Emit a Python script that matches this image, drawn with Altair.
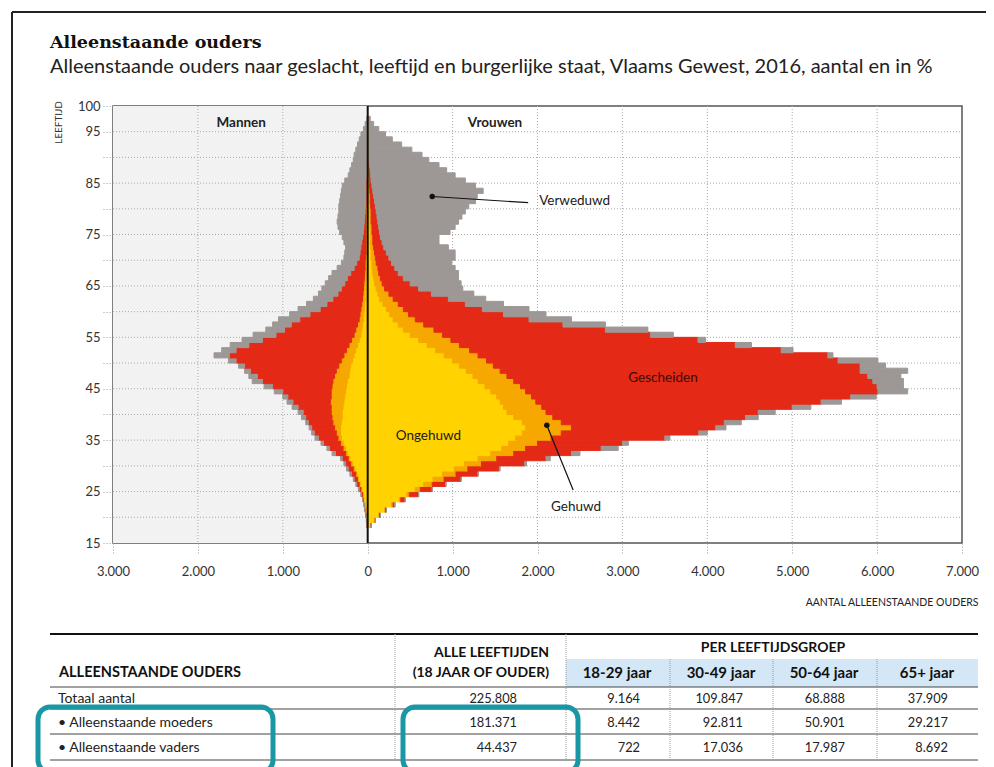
import altair as alt
import pandas as pd

# ---------------- data (counts in thousands) ----------------
ages = list(range(18, 98))
categories = ["Ongehuwd", "Gehuwd", "Gescheiden", "Verweduwd"]
cat_colors = ["#FFD200", "#F6A800", "#E42A16", "#9D9896"]

# women: cumulative outer edge of each status band, ages 18..97
vrouwen_ongehuwd = [
    0.04, 0.08, 0.13, 0.2, 0.28, 0.37, 0.46, 0.56, 0.66, 0.77,
    0.88, 1.02, 1.14, 1.3, 1.45, 1.58, 1.66, 1.74, 1.82, 1.86,
    1.82, 1.72, 1.64, 1.6, 1.56, 1.52, 1.45, 1.38, 1.3, 1.24,
    1.16, 1.08, 1.0, 0.9, 0.8, 0.7, 0.6, 0.5, 0.42, 0.36,
    0.3, 0.26, 0.22, 0.18, 0.14, 0.12, 0.1, 0.08, 0.07, 0.06,
    0.05, 0.05, 0.04, 0.04, 0.035, 0.03, 0.03, 0.03, 0.025, 0.025,
    0.02, 0.02, 0.02, 0.02, 0.015, 0.015, 0.01, 0.01, 0.01, 0.01,
    0.01, 0.005, 0.005, 0.005, 0.005, 0.0, 0.0, 0.0, 0.0, 0.0]
vrouwen_tm_gehuwd = [
    0.04, 0.09, 0.14, 0.21, 0.3, 0.39, 0.49, 0.62, 0.76, 0.9,
    1.04, 1.18, 1.34, 1.52, 1.72, 1.86, 2.0, 2.16, 2.28, 2.4,
    2.28, 2.18, 2.1, 2.05, 1.98, 1.93, 1.86, 1.8, 1.72, 1.64,
    1.56, 1.48, 1.4, 1.3, 1.2, 1.08, 0.98, 0.88, 0.78, 0.66,
    0.56, 0.48, 0.42, 0.36, 0.3, 0.25, 0.2, 0.17, 0.15, 0.13,
    0.12, 0.1, 0.09, 0.08, 0.07, 0.06, 0.06, 0.05, 0.05, 0.04,
    0.04, 0.04, 0.035, 0.03, 0.03, 0.025, 0.02, 0.02, 0.015, 0.015,
    0.01, 0.01, 0.01, 0.01, 0.005, 0.005, 0.0, 0.0, 0.0, 0.0]
vrouwen_tm_gescheiden = [
    0.04, 0.09, 0.15, 0.22, 0.32, 0.44, 0.6, 0.76, 0.92, 1.1,
    1.3, 1.55, 1.85, 2.1, 2.4, 2.75, 3.0, 3.5, 3.9, 4.1,
    4.2, 4.45, 4.6, 5.0, 5.34, 5.69, 6.01, 6.0, 5.95, 5.89,
    5.8, 5.8, 5.54, 5.42, 4.87, 4.33, 3.89, 3.33, 2.8, 2.3,
    1.9, 1.6, 1.35, 1.15, 0.95, 0.75, 0.6, 0.5, 0.42, 0.36,
    0.32, 0.28, 0.25, 0.22, 0.19, 0.17, 0.15, 0.14, 0.13, 0.12,
    0.11, 0.1, 0.09, 0.08, 0.07, 0.06, 0.05, 0.04, 0.035, 0.03,
    0.02, 0.015, 0.01, 0.01, 0.01, 0.01, 0.005, 0.005, 0.005, 0.0]
vrouwen_totaal = [
    0.04, 0.09, 0.15, 0.22, 0.32, 0.44, 0.6, 0.76, 0.92, 1.1,
    1.3, 1.56, 1.87, 2.15, 2.5, 2.95, 3.07, 3.56, 4.0, 4.22,
    4.4, 4.6, 4.8, 5.22, 5.58, 5.99, 6.36, 6.31, 6.31, 6.28,
    6.36, 6.1, 6.01, 5.48, 5.01, 4.52, 3.98, 3.6, 3.3, 2.8,
    2.4, 2.1, 1.9, 1.6, 1.39, 1.25, 1.12, 1.1, 1.07, 1.07,
    1.03, 0.99, 1.03, 1.03, 0.95, 0.84, 0.84, 0.97, 1.03, 1.07,
    1.11, 1.15, 1.19, 1.27, 1.29, 1.36, 1.27, 1.15, 1.03, 0.93,
    0.84, 0.72, 0.64, 0.52, 0.4, 0.29, 0.21, 0.13, 0.07, 0.03]

# men: cumulative outer edge of each status band, ages 18..97
mannen_ongehuwd = [
    0.01, 0.012, 0.015, 0.02, 0.03, 0.045, 0.055, 0.07, 0.09, 0.11,
    0.13, 0.15, 0.18, 0.21, 0.24, 0.26, 0.29, 0.31, 0.32, 0.32,
    0.31, 0.3, 0.3, 0.29, 0.28, 0.27, 0.26, 0.25, 0.24, 0.22,
    0.21, 0.2, 0.18, 0.16, 0.14, 0.12, 0.1, 0.08, 0.07, 0.06,
    0.05, 0.045, 0.04, 0.035, 0.03, 0.03, 0.025, 0.025, 0.02, 0.02,
    0.02, 0.02, 0.02, 0.015, 0.015, 0.015, 0.015, 0.015, 0.015, 0.015,
    0.015, 0.015, 0.015, 0.01, 0.01, 0.01, 0.01, 0.01, 0.01, 0.01,
    0.01, 0.01, 0.01, 0.005, 0.005, 0.005, 0.005, 0.005, 0.005, 0.0]
mannen_tm_gehuwd = [
    0.01, 0.012, 0.02, 0.03, 0.04, 0.05, 0.06, 0.08, 0.1, 0.12,
    0.14, 0.17, 0.2, 0.23, 0.26, 0.29, 0.32, 0.35, 0.37, 0.39,
    0.41, 0.42, 0.43, 0.43, 0.44, 0.43, 0.43, 0.42, 0.41, 0.39,
    0.37, 0.34, 0.31, 0.28, 0.25, 0.22, 0.19, 0.16, 0.14, 0.12,
    0.1, 0.09, 0.08, 0.07, 0.06, 0.055, 0.05, 0.045, 0.04, 0.035,
    0.03, 0.03, 0.025, 0.02, 0.02, 0.02, 0.02, 0.02, 0.02, 0.02,
    0.02, 0.02, 0.02, 0.01, 0.01, 0.01, 0.01, 0.01, 0.01, 0.01,
    0.01, 0.01, 0.01, 0.005, 0.005, 0.005, 0.005, 0.005, 0.005, 0.0]
mannen_tm_gescheiden = [
    0.01, 0.015, 0.02, 0.03, 0.04, 0.055, 0.075, 0.1, 0.13, 0.16,
    0.19, 0.23, 0.26, 0.3, 0.38, 0.45, 0.52, 0.58, 0.63, 0.66,
    0.7, 0.73, 0.76, 0.82, 0.88, 0.94, 1.0, 1.12, 1.24, 1.3,
    1.38, 1.45, 1.55, 1.63, 1.55, 1.4, 1.24, 1.08, 0.98, 0.9,
    0.8, 0.68, 0.56, 0.48, 0.41, 0.35, 0.31, 0.27, 0.24, 0.2,
    0.16, 0.13, 0.1, 0.09, 0.08, 0.07, 0.06, 0.05, 0.045, 0.04,
    0.035, 0.03, 0.025, 0.02, 0.02, 0.02, 0.02, 0.02, 0.01, 0.01,
    0.01, 0.01, 0.01, 0.005, 0.005, 0.005, 0.005, 0.005, 0.005, 0.0]
mannen_totaal = [
    0.01, 0.015, 0.02, 0.03, 0.045, 0.06, 0.08, 0.11, 0.14, 0.17,
    0.21, 0.25, 0.28, 0.32, 0.42, 0.48, 0.55, 0.62, 0.66, 0.69,
    0.73, 0.78, 0.82, 0.89, 0.95, 1.0, 1.1, 1.22, 1.36, 1.4,
    1.45, 1.52, 1.64, 1.81, 1.72, 1.62, 1.48, 1.35, 1.2, 1.12,
    1.05, 0.92, 0.82, 0.72, 0.64, 0.58, 0.54, 0.5, 0.46, 0.42,
    0.36, 0.31, 0.28, 0.27, 0.26, 0.28, 0.3, 0.33, 0.35, 0.36,
    0.35, 0.34, 0.34, 0.33, 0.32, 0.31, 0.3, 0.27, 0.23, 0.21,
    0.19, 0.17, 0.16, 0.14, 0.12, 0.1, 0.08, 0.05, 0.03, 0.01]

# annotations
ann_labels = ["Verweduwd", "Gescheiden", "Ongehuwd", "Gehuwd"]
ann_label_x = [2.02, 3.07, 0.33, 2.16]
ann_label_age = [81.6, 47.0, 35.8, 22.0]
ann_label_color = ["#1a1a1a", "#3b0906", "#1a1a1a", "#1a1a1a"]
ann_dot_x = [0.76, 2.11]
ann_dot_age = [82.4, 37.9]
ann_end_x = [1.89, 2.42]
ann_end_age = [81.2, 25.3]
sexes = ["Mannen", "Vrouwen"]
sex_label_x = [-1.49, 1.5]
sex_label_age = [96.6, 96.6]

# table
table_rows = ["Totaal aantal", "\u2022 Alleenstaande moeders", "\u2022 Alleenstaande vaders"]
alle_leeftijden = [225808, 181371, 44437]
leeftijdsgroepen = ["18-29 jaar", "30-49 jaar", "50-64 jaar", "65+ jaar"]
per_groep = [
    [9164, 109847, 68888, 37909],
    [8442, 92811, 50901, 29217],
    [722, 17036, 17987, 8692],
]

title_text = "Alleenstaande ouders"
subtitle_text = ("Alleenstaande ouders naar geslacht, leeftijd en burgerlijke staat, "
                 "Vlaams Gewest, 2016, aantal en in %")

# ---------------- layout (pixels) ----------------
W, H = 849, 437          # plot area
OX, OY = 113, 106        # page position of the plot origin


def px(x):
    return x - OX


def py(y):
    return y - OY


def nl(v):
    return f"{v:,}".replace(",", ".")


# ---------------- build tables ----------------
rows = []
for sign, series in [(1, [vrouwen_ongehuwd, vrouwen_tm_gehuwd, vrouwen_tm_gescheiden, vrouwen_totaal]),
                     (-1, [mannen_ongehuwd, mannen_tm_gehuwd, mannen_tm_gescheiden, mannen_totaal])]:
    for i, a in enumerate(ages):
        lo = 0.0
        for cat, s in zip(categories, series):
            hi = s[i]
            rows.append(dict(cat=cat, age=a, age2=a + 1, x0=sign * lo, x1=sign * hi))
            lo = hi
df = pd.DataFrame(rows)

xs = alt.Scale(domain=[-3, 7], nice=False, zero=False)
ys = alt.Scale(domain=[15, 100], nice=False, zero=False)
one = pd.DataFrame({"k": [0]})

x_axis = alt.Axis(
    values=list(range(-3, 8)),
    labelExpr="datum.value == 0 ? '0' : replace(format(abs(datum.value) * 1000, ','), ',', '.')",
    grid=False, domain=False, tickSize=10, tickDash=[1, 2], tickColor="#999",
    labelPadding=12, labelFontSize=13, labelColor="#333", labelFont="Lato", labelFlush=False,
    title="AANTAL ALLEENSTAANDE OUDERS", titleX=865, titleY=59, titleAlign="right",
    titleBaseline="middle", titleFontSize=10.5, titleFontWeight="normal", titleColor="#222",
    titleFont="Lato",
)
y_axis = alt.Axis(
    values=list(range(15, 101, 5)),
    labelExpr="(datum.value == 100 || datum.value % 10 == 5) ? datum.label : ''",
    grid=False, domain=False, tickSize=10, tickDash=[1, 2], tickColor="#999",
    labelPadding=3, labelFontSize=13, labelColor="#333", labelFont="Lato", labelFlush=False,
    title="LEEFTIJD", titleX=-55, titleY=16, titleAngle=270, titleAlign="center",
    titleBaseline="middle", titleFontSize=10, titleFontWeight="normal", titleColor="#333",
    titleFont="Lato",
)


def X(field):
    return alt.X(field, scale=xs, axis=x_axis)


def Y(field):
    return alt.Y(field, scale=ys, axis=y_axis)


# men background
bg = alt.Chart(pd.DataFrame({"a": [-3.0], "b": [0.0]})).mark_rect(color="#f2f2f2").encode(
    x=X("a:Q"), x2="b:Q", y=alt.value(0), y2=alt.value(H))

hgrid = alt.Chart(pd.DataFrame({"g": list(range(20, 100, 5))})).mark_rule(
    color="#aaa", strokeDash=[1, 2], strokeWidth=1).encode(
    y=Y("g:Q"), x=alt.value(0), x2=alt.value(W))
vgrid = alt.Chart(pd.DataFrame({"g": [-2, -1, 1, 2, 3, 4, 5, 6]})).mark_rule(
    color="#aaa", strokeDash=[1, 2], strokeWidth=1).encode(
    x=X("g:Q"), y=alt.value(0), y2=alt.value(H))

cscale = alt.Scale(domain=categories, range=cat_colors)
bars = alt.Chart(df).mark_rect(strokeWidth=1).encode(
    x=X("x0:Q"),
    x2="x1:Q",
    y=Y("age:Q"),
    y2="age2:Q",
    color=alt.Color("cat:N", scale=cscale, legend=None),
    stroke=alt.Stroke("cat:N", scale=cscale, legend=None),
)

center = alt.Chart(one).mark_rule(color="#111", strokeWidth=2).encode(
    x=X("k:Q"), y=alt.value(0), y2=alt.value(H))

ann_df = pd.DataFrame({"t": ann_labels, "x": ann_label_x, "a": ann_label_age, "c": ann_label_color})
ann_text = alt.Chart(ann_df).mark_text(align="left", baseline="middle", fontSize=13.5, font="Lato").encode(
    x=X("x:Q"), y=Y("a:Q"), text="t:N", color=alt.Color("c:N", scale=None))
line_df = pd.DataFrame({"x": ann_dot_x, "a": ann_dot_age, "x2": ann_end_x, "a2": ann_end_age})
ann_lines = alt.Chart(line_df).mark_rule(color="#111", strokeWidth=1.2).encode(
    x=X("x:Q"), y=Y("a:Q"), x2="x2:Q", y2="a2:Q")
ann_dots = alt.Chart(line_df).mark_point(filled=True, color="#111", size=30, opacity=1).encode(
    x=X("x:Q"), y=Y("a:Q"))
sex_df = pd.DataFrame({"t": sexes, "x": sex_label_x, "a": sex_label_age})
sex_text = alt.Chart(sex_df).mark_text(fontWeight="bold", fontSize=13.5, font="Lato", color="#222",
                                       baseline="middle").encode(
    x=X("x:Q"), y=Y("a:Q"), text="t:N")

# frame and titles
frame_top = alt.Chart(one).mark_rule(color="#222", strokeWidth=2).encode(
    x=alt.value(px(12)), x2=alt.value(px(986)), y=alt.value(py(12)))
frame_left = alt.Chart(one).mark_rule(color="#222", strokeWidth=2).encode(
    x=alt.value(px(12)), y=alt.value(py(12)), y2=alt.value(py(780)))
title = alt.Chart(one).mark_text(font="DejaVu Serif", fontWeight="bold", fontSize=17.5, align="left",
                                 baseline="alphabetic", color="#111").encode(
    x=alt.value(px(50)), y=alt.value(py(48)), text=alt.value(title_text))
subtitle = alt.Chart(one).mark_text(font="Lato", fontSize=20, align="left",
                                    baseline="alphabetic", color="#222").encode(
    x=alt.value(px(50)), y=alt.value(py(73)), text=alt.value(subtitle_text))

# ---------------- table ----------------
row_base = [703, 727, 752]
num_right = [517, 640, 743, 845, 948]
grp_center = [617, 721, 824, 927]

hl = pd.DataFrame({"x": [px(50)] * 4, "x2": [px(978)] * 4,
                   "y": [py(687), py(709), py(734), py(760)]})
t_hlines = alt.Chart(hl).mark_rule(color="#444", strokeWidth=1).encode(
    x=alt.X("x:Q", scale=None), x2="x2:Q", y=alt.Y("y:Q", scale=None))
t_top = alt.Chart(one).mark_rule(color="#111", strokeWidth=2.2).encode(
    x=alt.value(px(50)), x2=alt.value(px(978)), y=alt.value(py(634)))
band = alt.Chart(one).mark_rect(color="#D3E7F6").encode(
    x=alt.value(px(566)), x2=alt.value(px(978)), y=alt.value(py(659)), y2=alt.value(py(687)))
vl = pd.DataFrame({"x": [px(395), px(566), px(670), px(773), px(877)],
                   "y": [py(634), py(634), py(659), py(659), py(659)],
                   "y2": [py(760)] * 5})
t_vlines = alt.Chart(vl).mark_rule(color="#999", strokeWidth=1, strokeDash=[1, 1]).encode(
    x=alt.X("x:Q", scale=None), y=alt.Y("y:Q", scale=None), y2="y2:Q")

lab_df = pd.DataFrame({"t": table_rows, "x": [px(58)] * 3, "y": [py(b) for b in row_base]})
t_labels = alt.Chart(lab_df).mark_text(align="left", baseline="alphabetic", fontSize=14,
                                       font="Lato", color="#222").encode(
    x=alt.X("x:Q", scale=None), y=alt.Y("y:Q", scale=None), text="t:N")

num_rows = []
for r in range(3):
    vals = [alle_leeftijden[r]] + per_groep[r]
    for c, v in enumerate(vals):
        num_rows.append({"t": nl(v), "x": px(num_right[c]), "y": py(row_base[r])})
t_nums = alt.Chart(pd.DataFrame(num_rows)).mark_text(align="right", baseline="alphabetic",
                                                     fontSize=12.8, font="Lato", color="#222").encode(
    x=alt.X("x:Q", scale=None), y=alt.Y("y:Q", scale=None), text="t:N")

hdr_left = alt.Chart(pd.DataFrame({"t": ["ALLEENSTAANDE OUDERS"], "x": [px(59)], "y": [py(677)]})).mark_text(
    align="left", baseline="alphabetic", fontSize=14.5, fontWeight="bold", font="Lato", color="#111").encode(
    x=alt.X("x:Q", scale=None), y=alt.Y("y:Q", scale=None), text="t:N")
hdr_right = alt.Chart(pd.DataFrame({"t": ["ALLE LEEFTIJDEN", "(18 JAAR OF OUDER)"],
                                    "x": [px(549), px(549)], "y": [py(657), py(677)]})).mark_text(
    align="right", baseline="alphabetic", fontSize=14, fontWeight="bold", font="Lato", color="#111").encode(
    x=alt.X("x:Q", scale=None), y=alt.Y("y:Q", scale=None), text="t:N")
hdr_per = alt.Chart(pd.DataFrame({"t": ["PER LEEFTIJDSGROEP"], "x": [px(773)], "y": [py(652)]})).mark_text(
    align="center", baseline="alphabetic", fontSize=14, fontWeight="bold", font="Lato", color="#111").encode(
    x=alt.X("x:Q", scale=None), y=alt.Y("y:Q", scale=None), text="t:N")
hdr_grp = alt.Chart(pd.DataFrame({"t": leeftijdsgroepen, "x": [px(c) for c in grp_center],
                                  "y": [py(678)] * 4})).mark_text(
    align="center", baseline="alphabetic", fontSize=15, fontWeight="bold", font="Lato", color="#111").encode(
    x=alt.X("x:Q", scale=None), y=alt.Y("y:Q", scale=None), text="t:N")

hl_boxes = pd.DataFrame({"x": [px(38), px(403)], "x2": [px(273), px(578)],
                         "y": [py(707), py(707)], "y2": [py(772), py(772)]})
t_boxes = alt.Chart(hl_boxes).mark_rect(fillOpacity=0, stroke="#1A97A5", strokeWidth=5,
                                        cornerRadius=12).encode(
    x=alt.X("x:Q", scale=None), x2="x2:Q", y=alt.Y("y:Q", scale=None), y2="y2:Q")

chart = alt.layer(
    bg, hgrid, vgrid, bars, center, ann_lines, ann_dots, ann_text, sex_text,
    frame_top, frame_left, title, subtitle,
    band, t_top, t_hlines, t_vlines, hdr_left, hdr_right, hdr_per, hdr_grp, t_labels, t_nums, t_boxes,
).properties(
    width=W, height=H,
    padding={"left": 105, "top": 98, "right": 24, "bottom": 224},
    autosize=alt.AutoSizeParams(type="none"),
).configure(
    font="Lato",
    view=alt.ViewConfig(stroke="#555", strokeWidth=1.5),
)

chart.save("out.html", embed_options={"renderer": "svg", "actions": False})
